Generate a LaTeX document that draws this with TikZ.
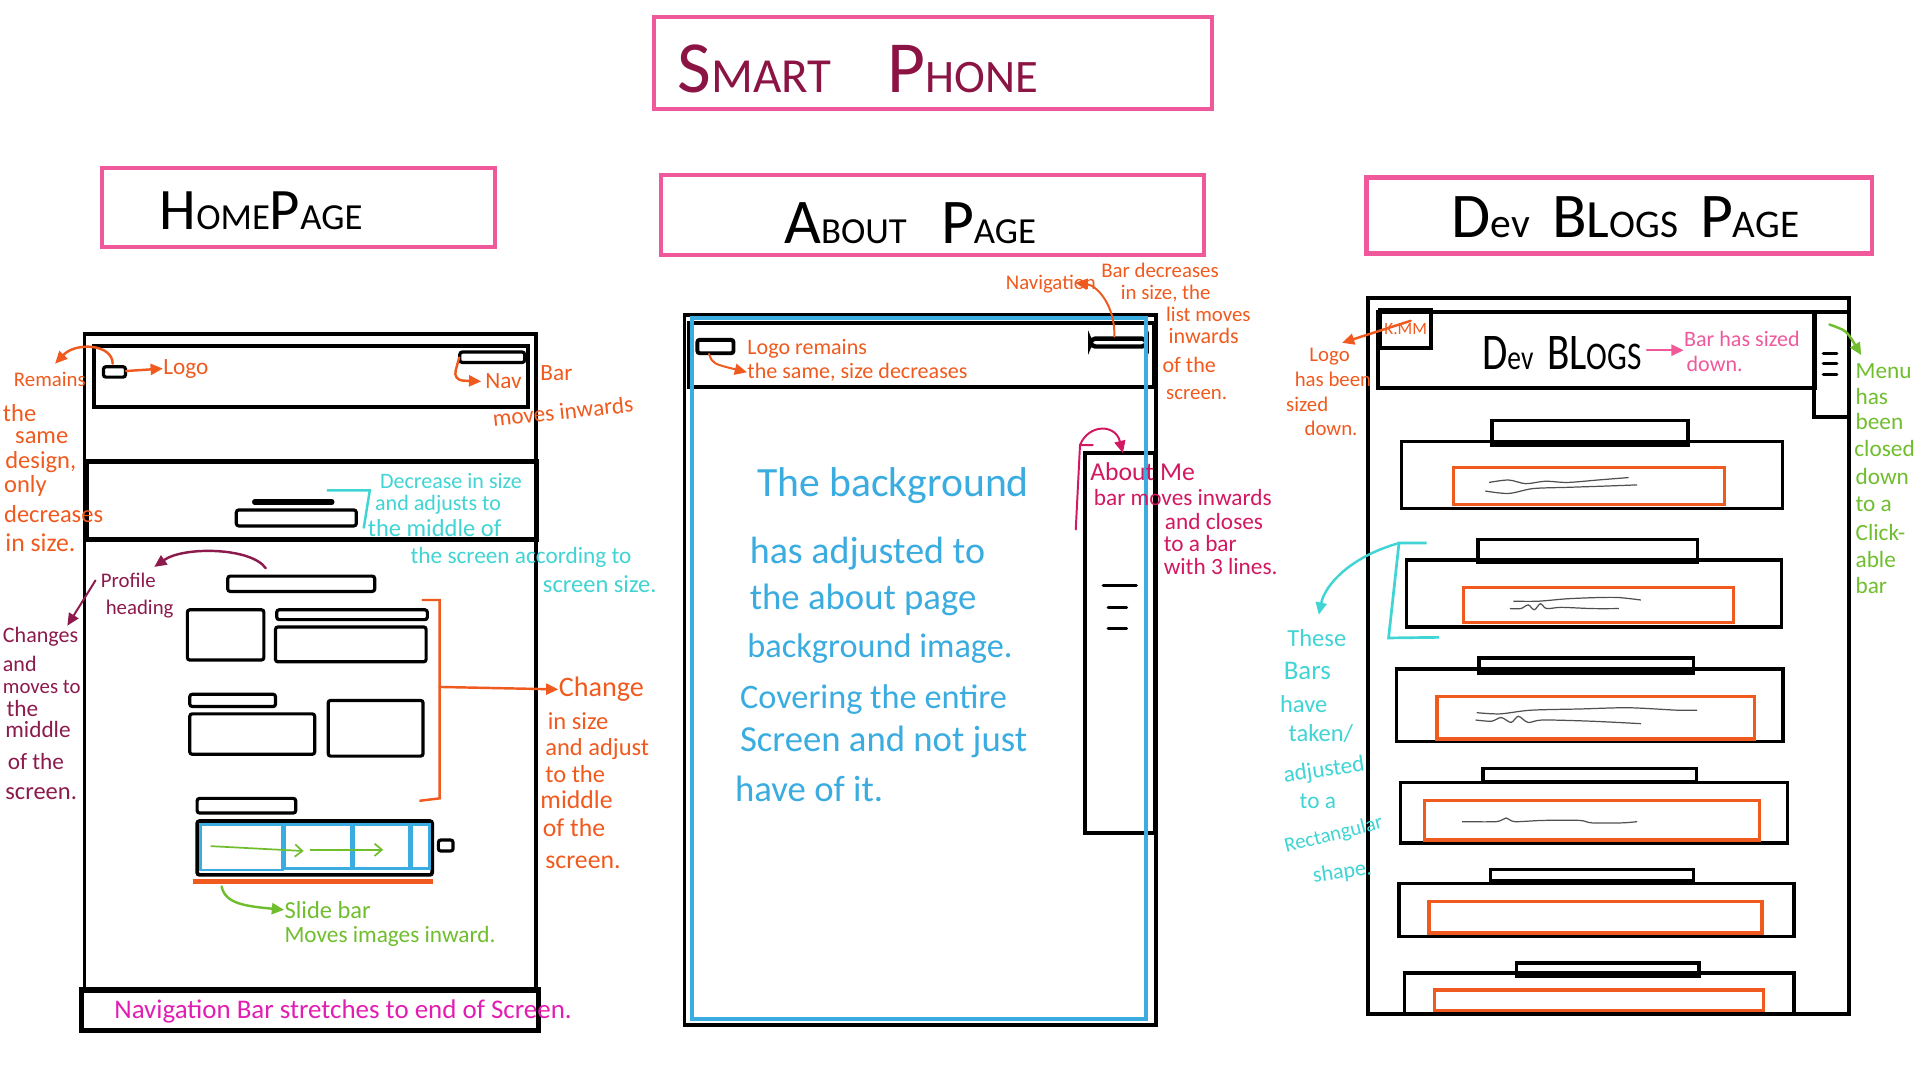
\documentclass[tikz,border=0pt]{standalone}
\usepackage{graphicx}
\usepackage{fontspec}
\setmainfont{Carlito}
\usetikzlibrary{arrows.meta}
\definecolor{pinkc}{RGB}{240,88,156}
\definecolor{titlec}{RGB}{140,20,68}
\definecolor{orangec}{RGB}{240,90,30}
\definecolor{cyanc}{RGB}{64,212,212}
\definecolor{bluec}{RGB}{58,172,224}
\definecolor{maroonc}{RGB}{140,26,76}
\definecolor{greenc}{RGB}{112,190,46}
\definecolor{magentac}{RGB}{226,30,178}
\definecolor{crimsonc}{RGB}{210,24,96}
\definecolor{scribc}{RGB}{80,80,80}
\newcommand{\myfs}[1]{\fontsize{#1}{#1}\selectfont}
\tikzset{
  labelbox/.style={draw=pinkc, line width=1.7pt},
  frame/.style={draw=black, line width=1.6pt},
  part/.style={draw=black, line width=1.3pt, rounded corners=1pt},
  card/.style={draw=black, line width=1.4pt},
  imgbox/.style={draw=orangec, line width=1.3pt},
  slot/.style={draw=bluec, line width=1.1pt},
  txt/.style={inner sep=0pt, anchor=west},
  orn/.style={txt, text=orangec},
  cyn/.style={txt, text=cyanc},
  blu/.style={txt, text=bluec},
  mrn/.style={txt, text=maroonc},
  grn/.style={txt, text=greenc},
  crm/.style={txt, text=crimsonc},
  pnk/.style={txt, text=pinkc},
  tipped/.style={-{Triangle[length=5pt,width=4.5pt]}, line width=1pt, line cap=round},
  barb/.style={-{Straight Barb[length=3pt,width=5pt]}, draw=greenc, line width=0.7pt},
  scrib/.style={draw=scribc, line width=0.5pt},
  menuline/.style={draw=black, line width=1.3pt, line cap=round},
}
\begin{document}
\begin{tikzpicture}[x=0.5pt,y=-0.5pt]
\useasboundingbox (0,0) rectangle (1568,882);
\fill[white] (0,0) rectangle (1568,882);

% ---------------- title and page labels ----------------
\draw[labelbox] (534,14) rectangle (990,89);
\node[txt, text=titlec] (title) at (553,56) {\myfs{30}S\myfs{20}MART\hspace{23pt}\myfs{30}P\myfs{19}HONE};
\draw[labelbox] (83,137) rectangle (404,202);
\node[txt] (homehead) at (130,172) {\myfs{24}H\myfs{15}OME\myfs{24}P\myfs{15}AGE};
\draw[labelbox] (540,143) rectangle (983,208);
\node[txt] (abouthead) at (640,182) {\myfs{26}A\myfs{15}BOUT\hspace{14pt}\myfs{26}P\myfs{15}AGE};
\draw[labelbox] (1116,145) rectangle (1529,207);
\node[txt] (devhead) at (1185,177) {\myfs{26}D\myfs{17}ev\hspace{9pt}\myfs{26}B\myfs{22}L\myfs{16}OGS\hspace{9pt}\myfs{26}P\myfs{16}AGE};

% ---------------- home page phone ----------------
\draw[frame] (69,808) -- (69,273) -- (438,273) -- (438,808);
\draw[frame] (76.5,282.5) rectangle (431,332.5);
\draw[part] (84.5,299.5) rectangle (102.5,308);
\draw[part] (375.5,287.5) rectangle (428.5,296);
\draw[frame, line width=1.9pt] (70.5,377) rectangle (438.5,440.5);
\draw[black, line width=2.2pt, line cap=round] (208,410) -- (271,410);
\draw[part] (193,416.5) rectangle (291,429.5);
% profile block
\draw[part] (186,470.5) rectangle (306,483);
\draw[part] (153,498) rectangle (215.5,539);
\draw[part] (226,498) rectangle (349,506);
\draw[part] (225,512) rectangle (348,540.5);
\draw[part] (155,567) rectangle (225,577);
\draw[part] (155,583) rectangle (257,616);
\draw[part] (268,572) rectangle (345.5,617.5);
% slider
\draw[part] (161,652) rectangle (241.5,664);
\draw[part, line width=1.5pt] (161,670.5) rectangle (353,714.5);
\draw[slot] (163.5,673.5) rectangle (230.5,710.5);
\draw[slot] (232.5,673.5) rectangle (287,709);
\draw[slot] (289,673.5) rectangle (334.5,709);
\draw[slot] (336.5,673.5) rectangle (350.5,709);
\coordinate (sa1) at (172,691);
\coordinate (sa2) at (248,695);
\coordinate (sb1) at (253,694);
\coordinate (sb2) at (313,694);
\draw[barb] (sa1) -- (sa2);
\draw[barb] (sb1) -- (sb2);
\draw[part] (358,686) rectangle (370,695);
\draw[orangec, line width=2pt] (157.5,720) -- (353.5,720);
% bottom navigation
\draw[frame, line width=2.1pt] (66.5,808.5) rectangle (439.5,841.5);

% home annotations
\coordinate (hlogoTop) at (92,297);
\coordinate (remTip) at (45,297);
\draw[tipped, draw=orangec] (hlogoTop) .. controls (92,281) and (62,279) .. (remTip);
\node[orn,font=\myfs{8.5}] (rem1) at (11,310) {Remains};
\node[orn,font=\myfs{10}] (rem2) at (2,337) {the};
\node[orn,font=\myfs{10}] (rem3) at (12,357) {same};
\node[orn,font=\myfs{10}] (rem4) at (4,377) {design,};
\node[orn,font=\myfs{10}] (rem5) at (3,397) {only};
\node[orn,font=\myfs{10}] (rem6) at (3,420) {decreases};
\node[orn,font=\myfs{10.5}] (rem7) at (4,443) {in size.};

\coordinate (hlogoR) at (103,303);
\node[orn,font=\myfs{9.5}] (hlogo) at (133,301) {Logo};
\draw[tipped, draw=orangec] (hlogoR) -- (hlogo.west);

\coordinate (hnavL) at (375,292);
\coordinate (hnavTip) at (393,311.5);
\draw[tipped, draw=orangec, rounded corners=4pt] (hnavL) -- (370,310.5) -- (hnavTip);
\node[orn,font=\myfs{9.5}] (hnav1) at (396,311) {Nav};
\node[orn,font=\myfs{9.5}] (hnav2) at (441,305) {Bar};
\node[orn,font=\myfs{9.5},rotate=6] (hnav3) at (402,342) {moves inwards};

\coordinate (hc1) at (267,400.5);
\coordinate (hc2) at (302,400.5);
\coordinate (hc3) at (297,431.5);
\draw[cyanc, line width=1pt] (hc1) -- (hc2) -- (hc3);
\node[cyn,font=\myfs{9}] (dec1) at (310,393) {Decrease in size};
\node[cyn,font=\myfs{9}] (dec2) at (306,412) {and adjusts to};
\node[cyn,font=\myfs{10}] (dec3) at (300,431) {the middle of};
\node[cyn,font=\myfs{9.5}] (dec4) at (335,455) {the screen according to};
\node[cyn,font=\myfs{10}] (dec5) at (443,477) {screen size.};

\coordinate (profStart) at (217,464);
\coordinate (profTip) at (126,463);
\draw[tipped, draw=maroonc] (profStart) .. controls (205,447) and (150,446) .. (profTip);
\node[mrn,font=\myfs{8.5}] (prof1) at (82,474) {Profile};
\node[mrn,font=\myfs{8.5}] (prof2) at (86,497) {heading};
\coordinate (chgStart) at (78,474);
\coordinate (chgTip) at (55,511);
\draw[tipped, draw=maroonc, line width=0.8pt] (chgStart) -- (chgTip);
\node[mrn,font=\myfs{9}] (chg1) at (2,520) {Changes};
\node[mrn,font=\myfs{9}] (chg2) at (2,542) {and};
\node[mrn,font=\myfs{8.5}] (chg3) at (2,561) {moves to};
\node[mrn,font=\myfs{9.5}] (chg4) at (5,579) {the};
\node[mrn,font=\myfs{9.5}] (chg5) at (4,596) {middle};
\node[mrn,font=\myfs{9.5}] (chg6) at (6,622) {of the};
\node[mrn,font=\myfs{10}] (chg7) at (4,648) {screen.};

\coordinate (br1) at (344.5,490);
\coordinate (br2) at (359,490);
\coordinate (br3) at (359,652);
\coordinate (br4) at (342.5,654);
\coordinate (brMid) at (359,561);
\draw[orangec, line width=1pt] (br1) -- (br2) -- (br3) -- (br4);
\node[orn,font=\myfs{11.5}] (ch1) at (456,563) {Change};
\draw[tipped, draw=orangec] (brMid) -- (ch1.west);
\node[orn,font=\myfs{10}] (ch2) at (447,589) {in size};
\node[orn,font=\myfs{10}] (ch3) at (445,612) {and adjust};
\node[orn,font=\myfs{10}] (ch4) at (445,632) {to the};
\node[orn,font=\myfs{10.5}] (ch5) at (441,653) {middle};
\node[orn,font=\myfs{10.5}] (ch6) at (443,676) {of the};
\node[orn,font=\myfs{10.5}] (ch7) at (445,704) {screen.};

\coordinate (slStart) at (181,724);
\node[grn,font=\myfs{10}] (sl1) at (232,743) {Slide bar};
\node[grn,font=\myfs{9.5}] (sl2) at (232,765) {Moves images inward.};
\draw[tipped, draw=greenc] (slStart) .. controls (184,738) and (200,740) .. (sl1.west);

\node[txt,text=magentac,font=\myfs{11}] (navtxt) at (93,826) {Navigation Bar stretches to end of Screen.};

% ---------------- about page phone ----------------
\draw[frame] (559,257) rectangle (944,837);
\draw[frame] (562.5,263.5) rectangle (942.5,316);
\draw[part, line width=1.6pt] (569.5,277.5) rectangle (599,288.5);
\draw[part, line width=1.8pt, rounded corners=2pt] (890.5,276.5) rectangle (936.5,283);
\draw[frame] (886,370) rectangle (943,680);
\draw[menuline] (901,478) -- (928,478);
\draw[menuline] (905,496) -- (920,496);
\draw[menuline] (905,513) -- (920,513);
\draw[bluec, line width=1.6pt] (565,260) rectangle (936,832);

\coordinate (alogoB) at (579,289);
\node[orn,font=\myfs{9}] (alogo1) at (610,285) {Logo remains};
\node[orn,font=\myfs{9}] (alogo2) at (610,304) {the same, size decreases};
\draw[tipped, draw=orangec, line width=0.8pt] (alogoB) .. controls (582,297) .. (alogo2.west);

\coordinate (anavT) at (910,275);
\node[orn,font=\myfs{8.5}] (anav1) at (821,232) {Navigation};
\node[orn,font=\myfs{8.5}] (anav2) at (899,221) {Bar decreases};
\coordinate (anavTip) at (878,231);
\draw[tipped, draw=orangec, line width=0.8pt] (anavT) .. controls (911,250) and (896,233) .. (anavTip);
\node[orn,font=\myfs{8.5}] (anav3) at (915,240) {in size, the};
\node[orn,font=\myfs{8.5}] (anav4) at (952,257) {list moves};
\node[orn,font=\myfs{9}] (anav5) at (954,274) {inwards};
\node[orn,font=\myfs{9}] (anav6) at (949,298) {of the};
\node[orn,font=\myfs{8.5}] (anav7) at (952,322) {screen.};

\coordinate (amH) at (893,363.5);
\coordinate (amT) at (882,363.5);
\coordinate (amB) at (878.5,433);
\coordinate (amTip) at (917,370);
\draw[crimsonc, line width=0.8pt] (amH) -- (amT) -- (amB);
\draw[tipped, draw=crimsonc, line width=0.8pt] (amT) .. controls (889,346) and (911,346) .. (amTip);
\node[crm,font=\myfs{10.5}] (am1) at (890,385) {About Me};
\node[crm,font=\myfs{9.5}] (am2) at (893,406) {bar moves inwards};
\node[crm,font=\myfs{9.5}] (am3) at (951,426) {and closes};
\node[crm,font=\myfs{9.5}] (am4) at (950,444) {to a bar};
\node[crm,font=\myfs{9.5}] (am5) at (950,463) {with 3 lines.};

\node[blu,font=\myfs{17}] (bg1) at (618,397) {The background};
\node[blu,font=\myfs{15.5}] (bg2) at (612,452) {has adjusted to};
\node[blu,font=\myfs{15}] (bg3) at (612,490) {the about page};
\node[blu,font=\myfs{14}] (bg4) at (610,530) {background image.};
\node[blu,font=\myfs{14}] (bg5) at (604,571) {Covering the entire};
\node[blu,font=\myfs{15}] (bg6) at (604,606) {Screen and not just};
\node[blu,font=\myfs{15}] (bg7) at (600,644) {have of it.};

% ---------------- dev blogs phone ----------------
\draw[frame] (1117.5,243.5) rectangle (1510,828);
\draw[frame] (1125.5,255) rectangle (1482,317);
\draw[frame] (1127,253.5) rectangle (1168.5,284.5);
\draw[frame] (1481.5,255) rectangle (1510,340.5);
\draw[menuline] (1489,288.5) -- (1500,288.5);
\draw[menuline] (1489,296.7) -- (1500,296.7);
\draw[menuline] (1489,305.7) -- (1500,305.7);
\node[orn,font=\myfs{7},anchor=center] (kmm) at (1148,269) {K.MM};
\node[txt] (devtitle) at (1210,288) {\scalebox{0.8}[1]{\myfs{21}D\myfs{14}ev\hspace{7pt}\myfs{21}BL\myfs{16}OGS}};

% blog cards
\draw[card] (1144.5,360.5) rectangle (1455.5,415.5);
\draw[card] (1218.5,343.5) rectangle (1378.5,363.5);
\draw[imgbox] (1187,382) rectangle (1408,412);
\draw[card] (1148.5,457.5) rectangle (1455,512);
\draw[card] (1207,440.5) rectangle (1386.5,459.5);
\draw[imgbox] (1195.5,479.5) rectangle (1415.5,508.5);
\draw[card] (1140.5,546.5) rectangle (1456,605.5);
\draw[card] (1208,537.5) rectangle (1383,549.5);
\draw[imgbox] (1173.5,568.5) rectangle (1433,603.5);
\draw[card] (1143.5,639) rectangle (1460,688.5);
\draw[card] (1211,627.5) rectangle (1385.5,638.5);
\draw[imgbox] (1163,653.5) rectangle (1437,686);
\draw[card] (1142.5,721.5) rectangle (1465,765);
\draw[card] (1217,710) rectangle (1383,719.5);
\draw[imgbox] (1167,736.5) rectangle (1439,762);
\draw[card] (1147,794.5) rectangle (1465,828);
\draw[card] (1238.5,786.5) rectangle (1387.5,797);
\draw[imgbox] (1171.5,808.5) rectangle (1440,825.5);

% scribbled captions
\draw[scrib] plot[smooth] coordinates {(1216,394) (1232,392) (1246,395) (1262,393) (1280,394) (1305,392) (1330,390)};
\draw[scrib] plot[smooth] coordinates {(1213,401) (1232,403) (1252,399) (1280,398) (1310,397) (1337,396)};
\draw[scrib] plot[smooth] coordinates {(1236,491) (1256,491) (1280,489) (1305,488) (1322,488) (1340,490)};
\draw[scrib] plot[smooth] coordinates {(1233,497) (1242,497) (1248,494) (1253,498) (1258,493) (1263,497) (1275,496) (1300,497) (1322,497)};
\draw[scrib] plot[smooth] coordinates {(1206,582) (1225,583) (1250,580) (1290,579) (1330,578) (1370,580) (1386,580)};
\draw[scrib] plot[smooth] coordinates {(1205,588) (1218,589) (1226,586) (1234,590) (1240,585) (1248,590) (1260,588) (1300,589) (1340,591)};
\draw[scrib] plot[smooth] coordinates {(1194,671) (1222,671) (1230,668) (1237,671) (1260,670) (1290,670) (1300,672) (1325,672) (1337,671)};

% dev annotations
\coordinate (kmmL) at (1152,262);
\node[orn,font=\myfs{8.5}] (dlogo1) at (1069,291) {Logo};
\coordinate (dlogoTip) at (1096,280);
\draw[tipped, draw=orangec] (kmmL) -- (dlogoTip);
\node[orn,font=\myfs{8.5}] (dlogo2) at (1057,310) {has been};
\node[orn,font=\myfs{8.5}] (dlogo3) at (1050,330) {sized};
\node[orn,font=\myfs{8.5}] (dlogo4) at (1065,350) {down.};

\node[pnk,font=\myfs{9}] (dbar1) at (1375,277) {Bar has sized};
\node[pnk,font=\myfs{9}] (dbar2) at (1377,297) {down.};
\coordinate (devT) at (1345,286);
\draw[tipped, draw=pinkc] (devT) -- (dbar1.west |- devT);

\coordinate (menuA) at (1494,265);
\coordinate (menuTip) at (1520,290);
\draw[tipped, draw=greenc] (menuA) .. controls (1508,270) .. (menuTip);
\node[grn,font=\myfs{9.5}] (mn1) at (1515,303) {Menu};
\node[grn,font=\myfs{9.5}] (mn2) at (1515,324) {has};
\node[grn,font=\myfs{9.5}] (mn3) at (1515,344) {been};
\node[grn,font=\myfs{9.5}] (mn4) at (1514,366) {closed};
\node[grn,font=\myfs{9.5}] (mn5) at (1515,389) {down};
\node[grn,font=\myfs{9.5}] (mn6) at (1515,412) {to a};
\node[grn,font=\myfs{9.5}] (mn7) at (1515,435) {Click-};
\node[grn,font=\myfs{9.5}] (mn8) at (1515,457) {able};
\node[grn,font=\myfs{9.5}] (mn9) at (1515,478) {bar};

\coordinate (tb1) at (1165,443.5);
\coordinate (tb2) at (1142.5,443.5);
\coordinate (tb3) at (1134,521);
\coordinate (tb4) at (1175,520.5);
\draw[cyanc, line width=1.1pt] (tb1) -- (tb2) -- (tb3) -- (tb4);
\coordinate (tbTip) at (1077,502);
\draw[tipped, draw=cyanc] (tb2) .. controls (1102,455) and (1082,478) .. (tbTip);
\node[cyn,font=\myfs{10}] (tbt1) at (1051,521) {These};
\node[cyn,font=\myfs{11}] (tbt2) at (1048,548) {Bars};
\node[cyn,font=\myfs{10}] (tbt3) at (1045,575) {have};
\node[cyn,font=\myfs{10}] (tbt4) at (1052,599) {taken/};
\node[cyn,font=\myfs{9.5},rotate=8] (tbt5) at (1048,634) {adjusted};
\node[cyn,font=\myfs{9.5}] (tbt6) at (1061,654) {to a};
\node[cyn,font=\myfs{8.5},rotate=14] (tbt7) at (1049,692) {Rectangular};
\node[cyn,font=\myfs{9},rotate=8] (tbt8) at (1072,716) {shape.};
\end{tikzpicture}
\end{document}
